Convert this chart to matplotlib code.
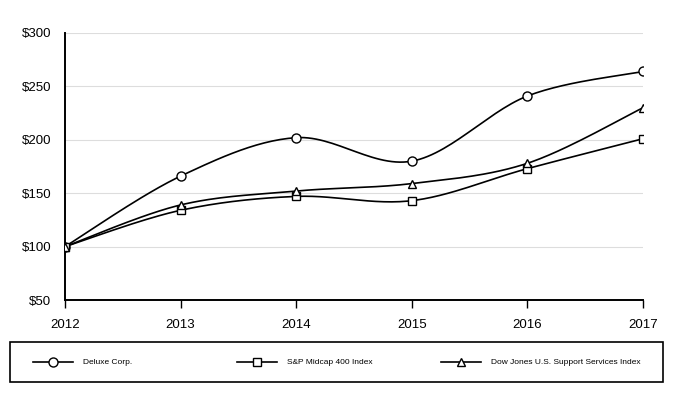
import numpy as np
import matplotlib

matplotlib.use("Agg")
import matplotlib.pyplot as plt
from matplotlib.lines import Line2D
from matplotlib.patches import Rectangle

plt.rcParams["font.family"] = ["Liberation Sans", "DejaVu Sans"]

years = [2012, 2013, 2014, 2015, 2016, 2017]
deluxe = [100, 166, 202, 180, 241, 264]
sp_midcap = [100, 134, 147, 143, 173, 201]
dow_jones = [100, 139, 152, 159, 178, 230]

series = [
    ("Deluxe Corp.", deluxe, "o", 6.5),
    ("S&P Midcap 400 Index", sp_midcap, "s", 5.2),
    ("Dow Jones U.S. Support Services Index", dow_jones, "^", 6.2),
]
yticks = [50, 100, 150, 200, 250, 300]


def smooth(x, y, n=30):
    """Catmull-Rom style curve through the points (like a spreadsheet 'smoothed line')."""
    x = np.asarray(x, float)
    y = np.asarray(y, float)
    px = np.concatenate([[x[0]], x, [x[-1]]])
    py = np.concatenate([[y[0]], y, [y[-1]]])
    xs, ys = [], []
    for i in range(1, len(px) - 2):
        p0, p1, p2, p3 = (np.array([px[j], py[j]]) for j in range(i - 1, i + 3))
        c1 = p1 + (p2 - p0) / 6
        c2 = p2 - (p3 - p1) / 6
        t = np.linspace(0, 1, n)[:, None]
        b = (1 - t) ** 3 * p1 + 3 * (1 - t) ** 2 * t * c1 + 3 * (1 - t) * t ** 2 * c2 + t ** 3 * p2
        xs.append(b[:, 0])
        ys.append(b[:, 1])
    return np.concatenate(xs), np.concatenate(ys)


fig = plt.figure(figsize=(6.76, 3.96), dpi=100)
ax = fig.add_axes([65 / 676, 1 - 300 / 396, 578 / 676, 267 / 396])

for label, vals, mk, ms in series:
    sx, sy = smooth(years, vals)
    ax.plot(sx, sy, color="black", lw=1.2, zorder=3)
    ax.plot(years, vals, ls="none", marker=mk, ms=ms, mfc="white", mec="black",
            mew=1.0, zorder=4)

ax.set_xlim(years[0], years[-1])
ax.set_ylim(50, 300)
ax.set_xticks(years)
ax.set_yticks(yticks)
ax.set_yticklabels([f"${v}" for v in yticks])
ax.tick_params(axis="x", length=6, width=1, pad=8, labelsize=9.5, direction="out")
ax.tick_params(axis="y", length=0, pad=10, labelsize=9.5)
ax.grid(axis="y", color="#dddddd", lw=0.8)
ax.set_axisbelow(True)
for s in ("top", "right"):
    ax.spines[s].set_visible(False)
for s in ("left", "bottom"):
    ax.spines[s].set_linewidth(1.4)

# legend box drawn by hand, entries at fixed columns
W, H = 676, 396
fig.add_artist(Rectangle((10 / W, 1 - 382 / H), 653 / W, 40 / H, transform=fig.transFigure,
                         fill=False, ec="black", lw=1.2))
y_leg = 1 - 362 / H
for (label, vals, mk, ms), x0 in zip(series, [33, 237, 441]):
    fig.add_artist(Line2D([x0 / W, (x0 + 40) / W], [y_leg, y_leg], transform=fig.transFigure,
                          color="black", lw=1.2))
    fig.add_artist(Line2D([(x0 + 20) / W], [y_leg], transform=fig.transFigure, ls="none",
                          marker=mk, ms=ms, mfc="white", mec="black", mew=1.0))
    fig.text((x0 + 50) / W, y_leg, label, fontsize=6, va="center", ha="left")

fig.savefig("out.png", dpi=100)
